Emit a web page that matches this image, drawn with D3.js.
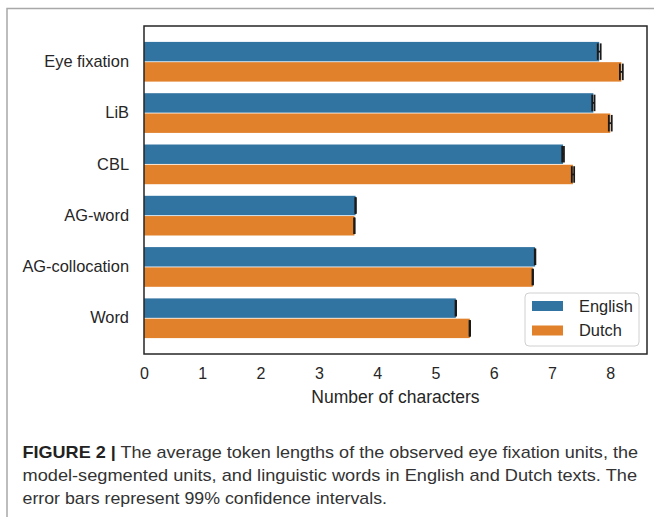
<!DOCTYPE html>
<html>
<head>
<meta charset="utf-8">
<script src="https://cdn.jsdelivr.net/npm/d3@7"></script>
<style>
    body { margin: 0; background: #fff; }
    svg { display: block; font-family: 'Liberation Sans', Arial, sans-serif; }
</style>
</head>
<body>
<svg width="654" height="517"></svg>
<script>
const categories = ['Eye fixation', 'LiB', 'CBL', 'AG-word', 'AG-collocation', 'Word'];
const languages = ['English', 'Dutch'];
const englishMeans = [7.81, 7.71, 7.19, 3.63, 6.71, 5.35];
const dutchMeans = [8.19, 8.00, 7.36, 3.61, 6.67, 5.59];
const englishCI = [0.025, 0.02, 0.015, 0.005, 0.005, 0.005];
const dutchCI = [0.025, 0.025, 0.02, 0.005, 0.005, 0.005];
const xTicks = [0, 1, 2, 3, 4, 5, 6, 7, 8];
const captionLines = [
    ['FIGURE 2 |', ' The average token lengths of the observed eye fixation units, the'],
    ['', 'model-segmented units, and linguistic words in English and Dutch texts. The'],
    ['', 'error bars represent 99% confidence intervals.']
];

const colors = { English: '#3274a1', Dutch: '#e1812c' };

const rows = categories.flatMap((c, i) => [
    { cat: c, lang: 'English', mean: englishMeans[i], ci: englishCI[i] },
    { cat: c, lang: 'Dutch', mean: dutchMeans[i], ci: dutchCI[i] }
]);

const svg = d3.select('svg');
const plot = { left: 144, right: 647, top: 26, bottom: 354 };

// outer figure frame (top and left edges only)
svg.append('path')
    .attr('d', 'M7,517V8.5H654')
    .attr('fill', 'none')
    .attr('stroke', '#a8a8a8')
    .attr('stroke-width', 1.5);

const x = d3.scaleLinear()
    .domain([0, 8.63])
    .range([plot.left, plot.right]);

const y = d3.scaleBand()
    .domain(categories)
    .range([plot.top, plot.bottom])
    .paddingInner(0.226)
    .paddingOuter(0.31);

const yInner = d3.scaleBand()
    .domain(languages)
    .range([0, y.bandwidth()])
    .paddingInner(0.04);

const bars = svg.append('g').attr('class', 'bars');

bars.selectAll('rect')
    .data(rows)
    .join('rect')
        .attr('x', x(0))
        .attr('y', d => y(d.cat) + yInner(d.lang))
        .attr('width', d => x(d.mean) - x(0))
        .attr('height', yInner.bandwidth())
        .attr('fill', d => colors[d.lang]);

// error bars with caps
const errs = svg.append('g')
    .attr('class', 'errbars')
    .attr('stroke', '#1a1a1a')
    .attr('stroke-width', 1.8);

const capH = yInner.bandwidth() * 0.85;
const ec = d => y(d.cat) + yInner(d.lang) + yInner.bandwidth() / 2;

errs.selectAll('.err-line')
    .data(rows)
    .join('line')
        .attr('class', 'err-line')
        .attr('x1', d => x(d.mean - d.ci))
        .attr('x2', d => x(d.mean + d.ci))
        .attr('y1', ec)
        .attr('y2', ec);

errs.selectAll('.cap-lo')
    .data(rows)
    .join('line')
        .attr('class', 'cap-lo')
        .attr('x1', d => x(d.mean - d.ci))
        .attr('x2', d => x(d.mean - d.ci))
        .attr('y1', d => ec(d) - capH / 2)
        .attr('y2', d => ec(d) + capH / 2);

errs.selectAll('.cap-hi')
    .data(rows)
    .join('line')
        .attr('class', 'cap-hi')
        .attr('x1', d => x(d.mean + d.ci))
        .attr('x2', d => x(d.mean + d.ci))
        .attr('y1', d => ec(d) - capH / 2)
        .attr('y2', d => ec(d) + capH / 2);

// axes frame
svg.append('rect')
    .attr('x', plot.left)
    .attr('y', plot.top)
    .attr('width', plot.right - plot.left)
    .attr('height', plot.bottom - plot.top)
    .attr('fill', 'none')
    .attr('stroke', '#262626')
    .attr('stroke-width', 1.5);

// x axis (no tick marks, labels only)
const xAxis = svg.append('g')
    .attr('transform', `translate(0,${plot.bottom})`)
    .call(d3.axisBottom(x).tickValues(xTicks).tickSize(0).tickPadding(14));
xAxis.select('.domain').remove();
xAxis.selectAll('text')
    .attr('font-size', 16)
    .attr('font-family', 'Liberation Sans, Arial, sans-serif')
    .attr('fill', '#262626');

svg.append('text')
    .attr('x', (plot.left + plot.right) / 2)
    .attr('y', 403)
    .attr('text-anchor', 'middle')
    .attr('font-size', 17.5)
    .attr('fill', '#262626')
    .text('Number of characters');

// y axis
const yAxis = svg.append('g')
    .attr('transform', `translate(${plot.left},0)`)
    .call(d3.axisLeft(y).tickSize(0).tickPadding(15));
yAxis.select('.domain').remove();
yAxis.selectAll('text')
    .attr('font-size', 16.4)
    .attr('font-family', 'Liberation Sans, Arial, sans-serif')
    .attr('fill', '#262626');

// legend
const legend = svg.append('g').attr('class', 'legend');
legend.append('rect')
    .attr('x', 525)
    .attr('y', 293)
    .attr('width', 114)
    .attr('height', 53)
    .attr('rx', 4)
    .attr('fill', '#fff')
    .attr('fill-opacity', 0.8)
    .attr('stroke', '#d0d0d0');

const items = legend.selectAll('.item')
    .data(languages)
    .join('g')
        .attr('class', 'item')
        .attr('transform', (d, i) => `translate(532,${301 + i * 24.5})`);

items.append('rect')
    .attr('width', 31)
    .attr('height', 10)
    .attr('fill', d => colors[d]);

items.append('text')
    .attr('x', 47)
    .attr('y', 5)
    .attr('dy', '0.35em')
    .attr('font-size', 16.4)
    .attr('fill', '#262626')
    .text(d => d);

// caption
const lineEnds = [638, 637, 387];
captionLines.forEach((parts, i) => {
    const t = svg.append('text')
        .attr('x', 22.5)
        .attr('y', 458 + i * 23)
        .attr('font-size', 17)
        .attr('fill', '#333')
        .attr('textLength', lineEnds[i] - 22.5)
        .attr('lengthAdjust', 'spacingAndGlyphs');
    if (parts[0]) {
        t.append('tspan')
            .attr('font-weight', 'bold')
            .attr('fill', '#222')
            .text(parts[0]);
    }
    t.append('tspan').text(parts[1]);
});
</script>
</body>
</html>
